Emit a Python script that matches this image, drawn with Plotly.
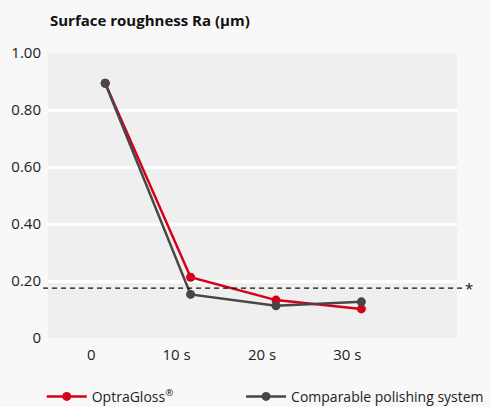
import plotly.graph_objects as go

times = [0, 10, 20, 30]
x_labels = ["0", "10 s", "20 s", "30 s"]
optragloss = [0.894, 0.213, 0.133, 0.102]
comparable = [0.894, 0.153, 0.113, 0.127]
threshold = 0.175
y_ticks = [0, 0.2, 0.4, 0.6, 0.8, 1.0]
y_ticktext = ["0", "0.20", "0.40", "0.60", "0.80", "1.00"]

RED = "#d5001c"
GRAY = "#474747"
FONT = "Open Sans"

fig = go.Figure()
fig.add_trace(go.Scatter(
    x=times, y=optragloss, mode="lines+markers", name="OptraGloss<sup>®</sup>",
    line=dict(color=RED, width=2.5), marker=dict(color=RED, size=9),
    legend="legend"))
fig.add_trace(go.Scatter(
    x=times, y=comparable, mode="lines+markers", name="Comparable polishing system",
    line=dict(color=GRAY, width=2.5), marker=dict(color=GRAY, size=9),
    legend="legend2"))

fig.add_shape(type="line", xref="paper", yref="y", x0=-0.012, x1=1.015,
              y0=threshold, y1=threshold,
              line=dict(color="#111111", width=1.3, dash="5px,4px"))
fig.add_annotation(xref="paper", yref="y", x=1.03, y=threshold, text="*",
                   showarrow=False, xanchor="center", yanchor="middle",
                   font=dict(family=FONT, size=15, color="#111111"))
fig.add_annotation(xref="paper", yref="paper", x=0, y=1, yshift=33,
                   text="<b>Surface roughness Ra (µm)</b>", showarrow=False,
                   xanchor="left", yanchor="middle",
                   font=dict(family=FONT, size=15, color="#111111"))

legend_common = dict(orientation="h", yanchor="middle", xanchor="left",
                     xref="container", yref="container", itemwidth=40,
                     font=dict(family=FONT, size=14, color="#222222"),
                     bgcolor="rgba(0,0,0,0)")
fig.update_layout(
    width=491, height=407,
    margin=dict(l=48, r=34, t=53, b=69, autoexpand=False),
    paper_bgcolor="#f8f8f8", plot_bgcolor="#efefef",
    font=dict(family=FONT, size=15, color="#222222"),
    showlegend=True,
    legend=dict(x=0.085, y=0.025, **legend_common),
    legend2=dict(x=0.491, y=0.025, **legend_common),
)
fig.update_xaxes(range=[-6.7, 41.2], tickvals=times, ticktext=x_labels,
                 showgrid=False, zeroline=False, showline=False, automargin=False,
                 ticks="", ticklabelshift=-14, ticklabelstandoff=6,
                 tickfont=dict(family=FONT, size=15, color="#222222"))
fig.update_yaxes(range=[0, 1.0], tickvals=y_ticks, ticktext=y_ticktext,
                 showgrid=True, gridcolor="#ffffff", gridwidth=3, automargin=False,
                 zeroline=False, showline=False, ticks="", ticklabelstandoff=6,
                 tickfont=dict(family=FONT, size=15, color="#222222"))

fig.write_html("out.html", config={"displayModeBar": False},
               post_script="document.body.style.margin='0';document.body.style.background='#f8f8f8';")
